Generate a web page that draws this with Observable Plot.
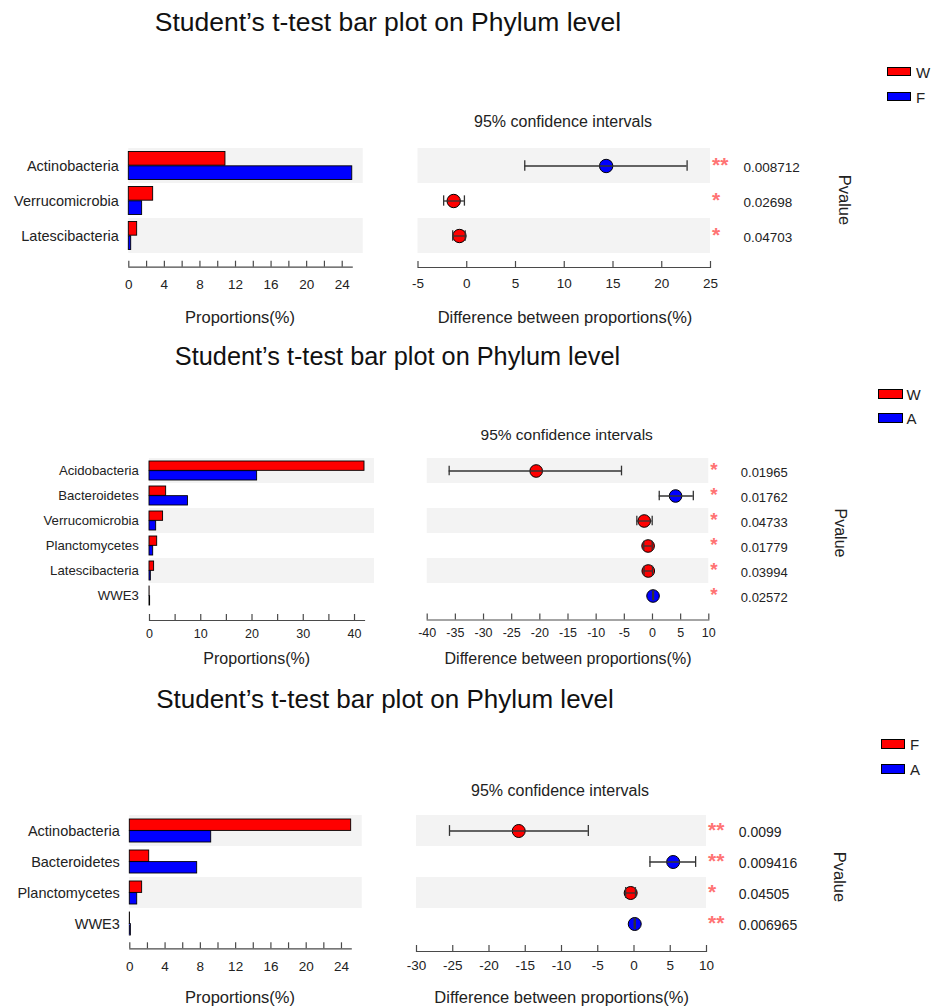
<!DOCTYPE html>
<html>
<head>
<meta charset="utf-8">
<script src="https://cdn.jsdelivr.net/npm/d3@7"></script>
<script src="https://cdn.jsdelivr.net/npm/@observablehq/plot@0.6"></script>
<style>
  html, body { margin: 0; padding: 0; background: #fff; }
  #root { position: relative; width: 933px; height: 1006px; background: #fff; overflow: hidden;
          font-family: "Liberation Sans", Arial, sans-serif; color: #111; }
  .lbl { position: absolute; white-space: nowrap; line-height: 1; }
  .box { position: absolute; border: 1px solid #000; box-sizing: border-box; }
  .plotwrap { position: absolute; }
</style>
</head>
<body>
<div id="root"></div>
<script>
// ---------------- DATA ----------------
const titleText = "Student’s t-test bar plot on Phylum level";

// Panel 1: W vs F
const p1Categories = ["Actinobacteria", "Verrucomicrobia", "Latescibacteria"];
const p1Groups = ["W", "F"];
const p1Group1 = [10.87, 2.74, 0.94];
const p1Group2 = [25.13, 1.50, 0.27];
const p1Diff = [14.30, -1.34, -0.75];
const p1Lower = [5.95, -2.37, -1.44];
const p1Upper = [22.60, -0.24, -0.16];
const p1Pvalues = ["0.008712", "0.02698", "0.04703"];
const p1PropTicks = [0, 2, 4, 6, 8, 10, 12, 14, 16, 18, 20, 22, 24];
const p1PropLabels = [0, 4, 8, 12, 16, 20, 24];
const p1DiffTicks = [-5, 0, 5, 10, 15, 20, 25];

// Panel 2: W vs A
const p2Categories = ["Acidobacteria", "Bacteroidetes", "Verrucomicrobia", "Planctomycetes", "Latescibacteria", "WWE3"];
const p2Groups = ["W", "A"];
const p2Group1 = [41.95, 3.25, 2.65, 1.50, 0.90, 0.02];
const p2Group2 = [21.00, 7.50, 1.30, 0.72, 0.26, 0.12];
const p2Diff = [-20.65, 4.10, -1.47, -0.78, -0.75, 0.10];
const p2Lower = [-36.10, 1.20, -2.78, -1.55, -1.50, 0.02];
const p2Upper = [-5.50, 7.25, -0.05, -0.05, 0.00, 0.20];
const p2Pvalues = ["0.01965", "0.01762", "0.04733", "0.01779", "0.03994", "0.02572"];
const p2PropTicks = [0, 5, 10, 15, 20, 25, 30, 35, 40];
const p2PropLabels = [0, 10, 20, 30, 40];
const p2DiffTicks = [-40, -35, -30, -25, -20, -15, -10, -5, 0, 5, 10];

// Panel 3: F vs A
const p3Categories = ["Actinobacteria", "Bacteroidetes", "Planctomycetes", "WWE3"];
const p3Groups = ["F", "A"];
const p3Group1 = [25.10, 2.20, 1.40, 0.02];
const p3Group2 = [9.23, 7.64, 0.84, 0.12];
const p3Diff = [-15.90, 5.40, -0.46, 0.10];
const p3Lower = [-25.45, 2.20, -1.15, 0.03];
const p3Upper = [-6.30, 8.50, 0.20, 0.18];
const p3Pvalues = ["0.0099", "0.009416", "0.04505", "0.006965"];
const p3PropTicks = [0, 2, 4, 6, 8, 10, 12, 14, 16, 18, 20, 22, 24];
const p3PropLabels = [0, 4, 8, 12, 16, 20, 24];
const p3DiffTicks = [-30, -25, -20, -15, -10, -5, 0, 5, 10];

const groupColors = ["#ff0000", "#0000ff"];

// ---------------- STYLE / LAYOUT ----------------
const BAND = "#f3f3f3", STAR = "#ff7373", AXIS = "#4a4a4a", TXT = "#222";
const FONT = "Liberation Sans, Arial, sans-serif";
const root = document.getElementById("root");

function addText(txt, x, y, size, opts = {}) {
  const d = document.createElement("div");
  d.className = "lbl";
  d.textContent = txt;
  const tx = opts.anchor === "start" ? "0" : "-50%";
  const rot = opts.rotate ? ` rotate(${opts.rotate}deg)` : "";
  d.style.left = x + "px";
  d.style.top = y + "px";
  d.style.fontSize = size + "px";
  d.style.color = opts.color || "#111";
  d.style.transform = `translate(${tx},-50%)${rot}`;
  root.appendChild(d);
}
function addBox(x, y, w, h, color) {
  const d = document.createElement("div");
  d.className = "box";
  Object.assign(d.style, {left: x + "px", top: y + "px", width: w + "px", height: h + "px", background: color});
  root.appendChild(d);
}
function place(node, x, y) {
  const w = document.createElement("div");
  w.className = "plotwrap";
  w.style.left = x + "px";
  w.style.top = y + "px";
  w.appendChild(node);
  root.appendChild(w);
}

const panels = [
  {
    categories: p1Categories, groups: p1Groups, g1: p1Group1, g2: p1Group2, diff: p1Diff, lo: p1Lower, hi: p1Upper,
    p: p1Pvalues, propTicks: p1PropTicks, propLabels: p1PropLabels, diffTicks: p1DiffTicks,
    L: {
      top: 100, height: 230, rowsTop: 147.3, rowsBottom: 254.3,
      bars: {x0: 128.3, xEnd: 351.7, bandRight: 362.7, domainMax: 26.36, axisY: 266.7, labelPad: 10, catFont: 14.5, tickFont: 13.5, tickPad: 12.5, inset: 3.5},
      ci: {left: 417.5, right: 710, domain: [-5, 25], axisY: 267, tickFont: 13.5, tickPad: 11, r: 6.7, cap: 5.5, pDx: 33, pFont: 13.5, starFont: 21},
      title: [388, 22, 26.5], legend: {x: 886.7, ys: [66.7, 91.7], w: 24.3, h: 9.6, tx: 916, size: 15},
      conf: [563, 121.7, 16], pv: [845, 200, 16.5], barTitle: [240, 316.7, 16.5], ciTitle: [565, 316.7, 16.5]
    }
  },
  {
    categories: p2Categories, groups: p2Groups, g1: p2Group1, g2: p2Group2, diff: p2Diff, lo: p2Lower, hi: p2Upper,
    p: p2Pvalues, propTicks: p2PropTicks, propLabels: p2PropLabels, diffTicks: p2DiffTicks,
    L: {
      top: 420, height: 260, rowsTop: 457.3, rowsBottom: 609.3,
      bars: {x0: 149, xEnd: 364, bandRight: 374, domainMax: 43.9, axisY: 620, labelPad: 10.7, catFont: 13.2, tickFont: 12.5, tickPad: 8.5, inset: 3},
      ci: {left: 426.7, right: 708.3, domain: [-40, 10], axisY: 619.5, tickFont: 12.5, tickPad: 8, r: 6.3, cap: 5, pDx: 32, pFont: 13, starFont: 19},
      title: [397.5, 356.7, 25.3], legend: {x: 878.3, ys: [389, 413.3], w: 24.4, h: 9.6, tx: 906.5, size: 15},
      conf: [566.7, 435, 15.5], pv: [840, 533, 16], barTitle: [256.7, 659.3, 16], ciTitle: [568, 659.3, 16]
    }
  },
  {
    categories: p3Categories, groups: p3Groups, g1: p3Group1, g2: p3Group2, diff: p3Diff, lo: p3Lower, hi: p3Upper,
    p: p3Pvalues, propTicks: p3PropTicks, propLabels: p3PropLabels, diffTicks: p3DiffTicks,
    L: {
      top: 780, height: 226, rowsTop: 814.3, rowsBottom: 939.1,
      bars: {x0: 129.3, xEnd: 350.7, bandRight: 361.7, domainMax: 26.35, axisY: 948.3, labelPad: 10, catFont: 14.5, tickFont: 13.5, tickPad: 12.5, inset: 4},
      ci: {left: 416, right: 706, domain: [-30, 10], axisY: 951, tickFont: 13.5, tickPad: 9, r: 6.5, cap: 5.5, pDx: 32.3, pFont: 14, starFont: 21},
      title: [385, 699, 26], legend: {x: 880.7, ys: [739, 764.3], w: 24.3, h: 9.6, tx: 910, size: 15},
      conf: [560, 790.7, 16], pv: [840, 876.7, 16.5], barTitle: [240, 996.7, 16.5], ciTitle: [561.7, 996.7, 16.5]
    }
  }
];

function drawPanel(cfg) {
  const L = cfg.L;
  const rows = cfg.categories.map((c, i) => ({
    cat: c, a: cfg.g1[i], b: cfg.g2[i], diff: cfg.diff[i], lo: cfg.lo[i], hi: cfg.hi[i],
    p: cfg.p[i], stars: (+cfg.p[i] < 0.01 ? "**" : "*"), gray: i % 2 === 0
  }));
  const grayRows = rows.filter(r => r.gray);
  const rowH = (L.rowsBottom - L.rowsTop) / rows.length;
  const yScale = {type: "band", domain: cfg.categories, range: [L.rowsTop - L.top, L.rowsBottom - L.top], padding: 0};
  const fmt = d => String(d);

  // ---- proportions bar plot ----
  const bw = 400;
  const B = L.bars;
  const barPlot = Plot.plot({
    width: bw, height: L.height,
    marginLeft: B.x0, marginRight: bw - B.xEnd,
    marginTop: L.rowsTop - L.top, marginBottom: L.top + L.height - B.axisY,
    x: {domain: [0, B.domainMax], range: [B.x0, B.bandRight]},
    y: yScale,
    style: {fontFamily: FONT, fontSize: B.tickFont + "px", color: TXT, background: "transparent", overflow: "visible"},
    marks: [
      Plot.barX(grayRows, {y: "cat", x1: 0, x2: B.domainMax, fill: BAND}),
      Plot.barX(rows, {y: "cat", x: "a", fill: groupColors[0], stroke: "#000", strokeWidth: 0.9,
        insetTop: B.inset, insetBottom: rowH / 2}),
      Plot.barX(rows, {y: "cat", x: "b", fill: groupColors[1], stroke: "#000", strokeWidth: 0.9,
        insetTop: rowH / 2, insetBottom: B.inset}),
      Plot.frame({anchor: "bottom", stroke: AXIS, strokeWidth: 1.2}),
      Plot.axisX({ticks: cfg.propTicks, tickSize: -6, fill: "none", stroke: AXIS, strokeWidth: 1.2, label: null}),
      Plot.axisX({ticks: cfg.propLabels, tickSize: 0, tickPadding: B.tickPad, tickFormat: fmt, fill: TXT, label: null}),
      Plot.axisY({tickSize: 0, tickPadding: B.labelPad, fontSize: B.catFont, fill: TXT, label: null})
    ]
  });
  place(barPlot, 0, L.top);

  // ---- confidence interval plot ----
  const cw = 533, cx0 = 400;
  const C = L.ci;
  const ciPlot = Plot.plot({
    width: cw, height: L.height,
    marginLeft: C.left - cx0, marginRight: cw - (C.right - cx0),
    marginTop: L.rowsTop - L.top, marginBottom: L.top + L.height - C.axisY,
    x: {domain: C.domain},
    y: {...yScale, axis: null},
    color: {type: "identity"},
    style: {fontFamily: FONT, fontSize: C.tickFont + "px", color: TXT, background: "transparent", overflow: "visible"},
    marks: [
      Plot.barX(grayRows, {y: "cat", x1: C.domain[0], x2: C.domain[1], fill: BAND}),
      Plot.ruleX(rows, {x: 0, y: "cat", stroke: "#9a9a9a", strokeWidth: 1.6, strokeDasharray: "6,3"}),
      Plot.frame({anchor: "bottom", stroke: AXIS, strokeWidth: 1.2}),
      Plot.axisX({ticks: cfg.diffTicks, tickSize: -6, fill: "none", stroke: AXIS, strokeWidth: 1.2, label: null}),
      Plot.axisX({ticks: cfg.diffTicks, tickSize: 0, tickPadding: C.tickPad, tickFormat: fmt, fill: TXT, label: null}),
      Plot.dot(rows, {x: "diff", y: "cat", r: C.r, fill: d => d.diff < 0 ? groupColors[0] : groupColors[1], stroke: "#000", strokeWidth: 1}),
      Plot.ruleY(rows, {y: "cat", x1: "lo", x2: "hi", stroke: "#333", strokeWidth: 1.3}),
      Plot.tickX(rows, {x: "lo", y: "cat", insetTop: rowH / 2 - C.cap, insetBottom: rowH / 2 - C.cap, stroke: "#333", strokeWidth: 1.3}),
      Plot.tickX(rows, {x: "hi", y: "cat", insetTop: rowH / 2 - C.cap, insetBottom: rowH / 2 - C.cap, stroke: "#333", strokeWidth: 1.3}),
      Plot.text(rows, {y: "cat", text: "stars", frameAnchor: "right", textAnchor: "start", dx: 1.5, dy: -1,
        fill: STAR, fontSize: C.starFont, fontWeight: "bold"}),
      Plot.text(rows, {y: "cat", text: "p", frameAnchor: "right", textAnchor: "start", dx: C.pDx, dy: 2,
        fill: TXT, fontSize: C.pFont})
    ]
  });
  place(ciPlot, cx0, L.top);

  // ---- texts & legend ----
  addText(titleText, L.title[0], L.title[1], L.title[2]);
  addText("95% confidence intervals", L.conf[0], L.conf[1], L.conf[2], {color: TXT});
  addText("Pvalue", L.pv[0], L.pv[1], L.pv[2], {rotate: 90, color: TXT});
  addText("Proportions(%)", L.barTitle[0], L.barTitle[1], L.barTitle[2], {color: TXT});
  addText("Difference between proportions(%)", L.ciTitle[0], L.ciTitle[1], L.ciTitle[2], {color: TXT});
  cfg.groups.forEach((g, i) => {
    addBox(L.legend.x, L.legend.ys[i], L.legend.w, L.legend.h, groupColors[i]);
    addText(g, L.legend.tx, L.legend.ys[i] + L.legend.h / 2, L.legend.size, {anchor: "start", color: TXT});
  });
}

panels.forEach(drawPanel);
</script>
</body>
</html>
